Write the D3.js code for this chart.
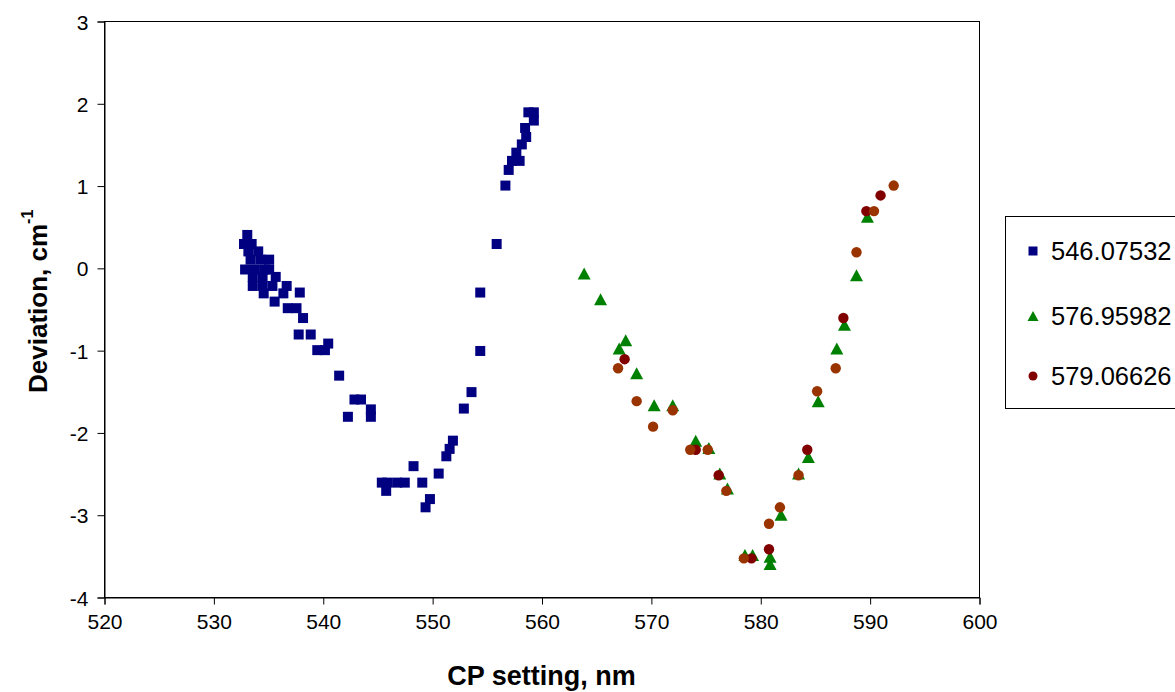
<!DOCTYPE html>
<html>
<head>
<meta charset="utf-8">
<script src="https://cdn.jsdelivr.net/npm/d3@7"></script>
<style>
  html, body { margin: 0; padding: 0; background: #fff; }
  svg { display: block; font-family: Arial, "Liberation Sans", Helvetica, sans-serif; }
</style>
</head>
<body>
<svg id="chart" width="1175" height="692"></svg>
<script>
// Axis tick values
const xTicks = [520, 530, 540, 550, 560, 570, 580, 590, 600];
const yTicks = [-4, -3, -2, -1, 0, 1, 2, 3];

// Series 546.07532 (CP setting, deviation)
const s546x = [533.1, 532.8, 533.5, 533.2, 534.1, 533.4, 534.3, 535.1, 532.9, 533.8, 534.7, 535.1,
  533.6, 534.5, 535.7, 533.6, 534.5, 535.4, 536.7, 534.6, 536.4, 537.9, 535.6, 536.8, 537.6, 538.2,
  537.8, 538.9, 540.5, 539.5, 540.2, 541.5, 542.9, 543.5, 544.4, 542.3, 544.4,
  552.9, 551.9, 551.6, 551.3, 548.3, 550.6, 545.4, 545.9, 546.8, 547.5, 545.8, 549.1, 549.8, 549.4,
  553.6, 554.4, 554.4, 555.9, 556.7, 557.0, 557.3, 558.0, 557.7, 558.2, 558.6, 558.5, 559.3, 558.8, 559.3];
const s546y = [0.40, 0.29, 0.29, 0.20, 0.20, 0.10, 0.10, 0.10, -0.02, -0.02, -0.02, -0.02,
  -0.11, -0.11, -0.11, -0.22, -0.22, -0.22, -0.22, -0.31, -0.31, -0.30, -0.41, -0.49, -0.49, -0.61,
  -0.81, -0.81, -0.92, -1.00, -1.00, -1.31, -1.60, -1.60, -1.72, -1.81, -1.81,
  -1.71, -2.10, -2.20, -2.29, -2.41, -2.50, -2.61, -2.61, -2.61, -2.61, -2.71, -2.61, -2.81, -2.91,
  -1.51, -1.01, -0.30, 0.29, 1.00, 1.19, 1.30, 1.30, 1.40, 1.50, 1.59, 1.70, 1.79, 1.89, 1.89];

// Series 576.95982
const s576x = [563.9, 565.4, 567.7, 567.1, 568.7, 570.3, 572.0, 574.1, 575.3, 576.3, 577.0, 578.6,
  579.3, 580.9, 580.9, 581.9, 583.5, 584.4, 585.3, 587.0, 587.7, 588.8, 589.8];
const s576y = [-0.07, -0.38, -0.88, -0.98, -1.28, -1.67, -1.67, -2.10, -2.19, -2.50, -2.68, -3.49,
  -3.49, -3.51, -3.60, -3.00, -2.50, -2.30, -1.62, -0.98, -0.69, -0.09, 0.62];

// Series 579.06626
const s579x = [567.6, 574.1, 576.2, 579.2, 580.8, 584.3, 587.6, 589.7, 591.0];
const s579y = [-1.11, -2.21, -2.52, -3.53, -3.42, -2.21, -0.61, 0.69, 0.88];

// Additional circle series (not listed in the legend)
const sExtx = [567.0, 568.7, 570.2, 572.0, 573.6, 575.2, 576.9, 578.5, 580.8, 581.8, 583.5, 585.2,
  586.9, 588.8, 590.4, 592.2];
const sExty = [-1.22, -1.62, -1.93, -1.73, -2.21, -2.21, -2.71, -3.53, -3.11, -2.91, -2.52, -1.50,
  -1.22, 0.19, 0.69, 1.00];

const legendLabels = ["546.07532", "576.95982", "579.06626"];

const svg = d3.select("#chart");
const W = 1175, H = 692;
const plot = { left: 104, top: 21, right: 979, bottom: 597 };

svg.append("rect").attr("width", W).attr("height", H).attr("fill", "#fff");

const x = d3.scaleLinear().domain([520, 600]).range([plot.left, plot.right]);
const y = d3.scaleLinear().domain([-4, 3]).range([plot.bottom, plot.top]);

// Plot area frame
svg.append("rect")
  .attr("x", plot.left + 0.5).attr("y", plot.top + 0.5)
  .attr("width", plot.right - plot.left).attr("height", plot.bottom - plot.top)
  .attr("fill", "none").attr("stroke", "#000").attr("stroke-width", 1);

// Axes (plain hyphen for negatives)
const fmt = d => String(d);
const xAxis = d3.axisBottom(x).tickValues(xTicks).tickSize(7).tickPadding(10).tickFormat(fmt);
const yAxis = d3.axisLeft(y).tickValues(yTicks).tickSize(7).tickPadding(9).tickFormat(fmt);

const gx = svg.append("g").attr("transform", `translate(0.5,${plot.bottom + 0.5})`).call(xAxis);
const gy = svg.append("g").attr("transform", `translate(${plot.left + 0.5},0.5)`).call(yAxis);
[gx, gy].forEach(g => {
  g.select(".domain").attr("stroke", "#000");
  g.selectAll(".tick line").attr("stroke", "#000");
  g.selectAll(".tick text").attr("fill", "#000").attr("font-size", 21)
    .attr("font-family", "Arial, 'Liberation Sans', sans-serif");
});
gy.selectAll(".tick text").attr("dy", "0.36em");

// Axis titles
svg.append("text")
  .attr("x", (plot.left + plot.right) / 2).attr("y", 685)
  .attr("text-anchor", "middle").attr("font-weight", "bold").attr("font-size", 27)
  .attr("fill", "#000").text("CP setting, nm");

const yt = svg.append("text")
  .attr("transform", "translate(47,393) rotate(-90)")
  .attr("text-anchor", "start").attr("font-weight", "bold").attr("font-size", 26)
  .attr("fill", "#000");
yt.append("tspan").text("Deviation, cm");
yt.append("tspan").attr("dy", -14).attr("font-size", 16).text("-1");

// Marker shapes
const sqPath = s => `M${-s/2},${-s/2}h${s}v${s}h${-s}Z`;
const triPath = (w, h) => `M0,${-h/2}L${w/2},${h/2}L${-w/2},${h/2}Z`;

function drawSeries(xs, ys, shape, color) {
  const data = xs.map((v, i) => [v, ys[i]]);
  const g = svg.append("g");
  if (shape === "circle") {
    g.selectAll("circle").data(data).join("circle")
      .attr("cx", d => x(d[0])).attr("cy", d => y(d[1])).attr("r", 5.2)
      .attr("fill", color);
  } else {
    const p = shape === "square" ? sqPath(10) : triPath(13, 12);
    g.selectAll("path").data(data).join("path")
      .attr("transform", d => `translate(${x(d[0])},${y(d[1])})`)
      .attr("d", p).attr("fill", color);
  }
}

drawSeries(s546x, s546y, "square", "#000080");
drawSeries(s576x, s576y, "triangle", "#008000");
drawSeries(s579x, s579y, "circle", "#800000");
drawSeries(sExtx, sExty, "circle", "#993300");

// Legend
const lg = svg.append("g");
lg.append("rect").attr("x", 1005.5).attr("y", 216.5).attr("width", 200).attr("height", 192)
  .attr("fill", "#fff").attr("stroke", "#000").attr("stroke-width", 1);
const legendRows = [
  { label: legendLabels[0], shape: "square", color: "#000080", cy: 251 },
  { label: legendLabels[1], shape: "triangle", color: "#008000", cy: 316 },
  { label: legendLabels[2], shape: "circle", color: "#800000", cy: 376 }
];
legendRows.forEach(r => {
  if (r.shape === "circle") {
    lg.append("circle").attr("cx", 1033).attr("cy", r.cy).attr("r", 4.5).attr("fill", r.color);
  } else {
    lg.append("path").attr("transform", `translate(1033,${r.cy})`)
      .attr("d", r.shape === "square" ? sqPath(9) : triPath(11, 10)).attr("fill", r.color);
  }
  lg.append("text").attr("x", 1051).attr("y", r.cy).attr("dy", "0.36em")
    .attr("font-size", 25.5).attr("fill", "#000").text(r.label);
});
</script>
</body>
</html>
